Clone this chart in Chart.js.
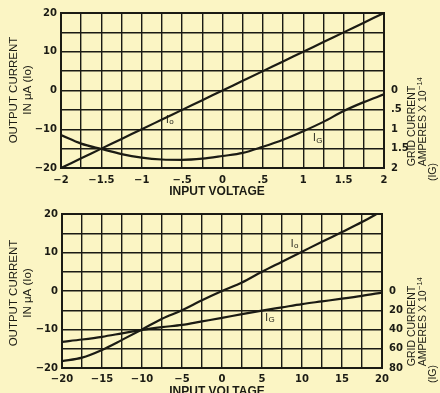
<!DOCTYPE html>
<html>
<head>
<meta charset="utf-8">
<script src="https://cdn.jsdelivr.net/npm/chart.js@4/dist/chart.umd.min.js"></script>
<style>
  html, body { margin: 0; padding: 0; background: #fbf5c4; }
  #wrap { position: relative; width: 440px; height: 393px; overflow: hidden; background: #fbf5c4; }
  canvas { position: absolute; left: 0; }
  #upper { top: 0; }
  #lower { top: 196px; }
</style>
</head>
<body>
<div id="wrap">
  <canvas id="upper" width="440" height="196"></canvas>
  <canvas id="lower" width="440" height="197"></canvas>
</div>
<script>
// ---- Upper panel: input voltage -2 … 2 ----
const upperVoltage = [-2, -1.75, -1.5, -1.25, -1, -0.75, -0.5, -0.25, 0, 0.25, 0.5, 0.75, 1, 1.25, 1.5, 1.75, 2];
const upperOutputCurrent = [-20, -17.5, -15, -12.5, -10, -7.5, -5, -2.5, 0, 2.5, 5, 7.5, 10, 12.5, 15, 17.5, 20];
const upperGridCurrent = [1.15, 1.37, 1.51, 1.64, 1.73, 1.78, 1.79, 1.76, 1.69, 1.61, 1.45, 1.27, 1.05, 0.81, 0.53, 0.30, 0.10];
const upperXTickValues = [-2, -1.5, -1, -0.5, 0, 0.5, 1, 1.5, 2];
const upperXTickLabels = ['−2', '−1.5', '−1', '−.5', '0', '.5', '1', '1.5', '2'];
const upperYTickValues = [-20, -10, 0, 10, 20];
const upperYTickLabels = ['−20', '−10', '0', '10', '20'];
const upperGridTickValues = [0, 0.5, 1, 1.5, 2];
const upperGridTickLabels = ['0', '.5', '1', '1.5', '2'];

// ---- Lower panel: input voltage -20 … 20 ----
const lowerVoltage = [-20, -17.5, -15, -12.5, -10, -7.5, -5, -2.5, 0, 2.5, 5, 7.5, 10, 12.5, 15, 17.5, 20];
const lowerOutputCurrent = [-18.2, -17.3, -15.3, -12.7, -10, -7.2, -5, -2.4, 0, 2.2, 5, 7.6, 10.2, 12.8, 15.3, 17.9, 20.8];
const lowerGridCurrent = [52.8, 50.4, 47.6, 44, 40.4, 37.6, 35.2, 31.6, 28, 24, 20.4, 17, 13.6, 10.8, 8, 5, 1.6];
const lowerXTickValues = [-20, -15, -10, -5, 0, 5, 10, 15, 20];
const lowerXTickLabels = ['−20', '−15', '−10', '−5', '0', '5', '10', '15', '20'];
const lowerYTickValues = [-20, -10, 0, 10, 20];
const lowerYTickLabels = ['−20', '−10', '0', '10', '20'];
const lowerGridTickValues = [0, 20, 40, 60, 80];
const lowerGridTickLabels = ['0', '20', '40', '60', '80'];

const INK = '#1b1b14';
const TITLE_FONT = '10.5px "Liberation Sans", Arial, sans-serif';
Chart.defaults.font.family = '"DejaVu Sans", sans-serif';
Chart.defaults.color = INK;

function labeler(values, labels) {
  return function (v) {
    const i = values.findIndex(t => Math.abs(t - v) < 1e-6);
    return i >= 0 ? labels[i] : '';
  };
}

function pairs(xs, ys) {
  return xs.map((x, i) => ({ x: x, y: ys[i] }));
}

function rotatedText(ctx, text, x, y) {
  ctx.save();
  ctx.translate(x, y);
  ctx.rotate(-Math.PI / 2);
  ctx.fillText(text, 0, 0);
  ctx.restore();
}

// Text for axis titles and curve names, placed on the canvas
const annotate = {
  id: 'annotate',
  afterDraw(chart, args, o) {
    const ctx = chart.ctx;
    ctx.save();
    ctx.fillStyle = INK;
    ctx.textAlign = 'center';
    ctx.textBaseline = 'middle';

    // x title
    ctx.font = 'bold 12px "Liberation Sans", Arial, sans-serif';
    ctx.fillText('INPUT VOLTAGE', o.xTitle[0], o.xTitle[1]);

    // left title, two rotated lines
    ctx.font = '11.5px "Liberation Sans", Arial, sans-serif';
    rotatedText(ctx, 'OUTPUT CURRENT', 14, o.leftCenter);
    rotatedText(ctx, 'IN μA (Io)', 28, o.leftCenter);

    // right title, rotated lines reading upwards
    ctx.font = TITLE_FONT;
    rotatedText(ctx, 'GRID CURRENT', 412, o.rightCenter);

    ctx.save();
    ctx.translate(423, o.rightCenter - 4);
    ctx.rotate(-Math.PI / 2);
    const main = 'AMPERES X 10';
    const wMain = ctx.measureText(main).width;
    ctx.font = '7.5px "Liberation Sans", Arial, sans-serif';
    const sup = '−14';
    const wSup = ctx.measureText(sup).width;
    const x0 = -(wMain + wSup) / 2;
    ctx.textAlign = 'left';
    ctx.fillText(sup, x0 + wMain + 0.5, -3.5);
    ctx.font = TITLE_FONT;
    ctx.fillText(main, x0, 0);
    ctx.restore();

    ctx.textAlign = 'center';
    rotatedText(ctx, '(IG)', 433, o.rightLast);

    // curve names at data positions
    const xs = chart.scales.x, ys = chart.scales.y;
    o.names.forEach(n => {
      const px = xs.getPixelForValue(n.at[0]);
      const py = ys.getPixelForValue(n.at[1]);
      ctx.textAlign = 'left';
      ctx.font = '10px "Liberation Sans", Arial, sans-serif';
      ctx.fillText('I', px, py);
      const w = ctx.measureText('I').width;
      ctx.font = '8px "Liberation Sans", Arial, sans-serif';
      ctx.fillText(n.sub, px + w + 0.5, py + 2);
    });
    ctx.restore();
  }
};

function gridWidth(ctx) {
  const s = ctx.scale;
  const v = ctx.tick && ctx.tick.value;
  return (Math.abs(v - s.min) < 1e-6 || Math.abs(v - s.max) < 1e-6) ? 2 : 1.4;
}

function buildChart(id, cfg) {
  return new Chart(document.getElementById(id), {
    type: 'line',
    data: {
      datasets: [
        {
          label: 'Io',
          data: pairs(cfg.voltage, cfg.io),
          yAxisID: 'y',
          borderColor: INK,
          borderWidth: 2.2,
          pointRadius: 0,
          cubicInterpolationMode: 'monotone',
          fill: false
        },
        {
          label: 'IG',
          data: pairs(cfg.voltage, cfg.ig),
          yAxisID: 'y2',
          borderColor: INK,
          borderWidth: 2.2,
          pointRadius: 0,
          cubicInterpolationMode: 'monotone',
          fill: false
        }
      ]
    },
    options: {
      responsive: false,
      animation: false,
      devicePixelRatio: 1,
      layout: { padding: { top: cfg.padTop, left: 0, right: 0, bottom: 0 } },
      plugins: {
        legend: { display: false },
        tooltip: { enabled: false },
        annotate: cfg.annotate
      },
      scales: {
        x: {
          type: 'linear',
          min: cfg.xMin, max: cfg.xMax,
          afterFit: s => { s.height = cfg.xHeight; },
          grid: { color: INK, lineWidth: gridWidth, drawTicks: false },
          border: { color: INK, width: 2 },
          ticks: {
            stepSize: cfg.xStep, autoSkip: false, maxRotation: 0, padding: cfg.xPad,
            font: { size: 10, weight: 'bold' },
            callback: labeler(cfg.xTickValues, cfg.xTickLabels)
          }
        },
        y: {
          type: 'linear', position: 'left',
          min: -20, max: 20,
          afterFit: s => { s.width = cfg.leftWidth; },
          grid: { color: INK, lineWidth: gridWidth, drawTicks: false },
          border: { color: INK, width: 2 },
          ticks: {
            stepSize: 5, autoSkip: false, padding: 4,
            font: { size: 10, weight: 'bold' },
            callback: labeler(cfg.yTickValues, cfg.yTickLabels)
          }
        },
        y2: {
          type: 'linear', position: 'right',
          min: -cfg.gMax, max: cfg.gMax, reverse: true,
          afterFit: s => { s.width = cfg.rightWidth; },
          grid: { display: false, drawTicks: false },
          border: { color: INK, width: 2 },
          ticks: {
            stepSize: cfg.gStep, autoSkip: false, padding: 7,
            font: { size: 10, weight: 'bold' },
            callback: labeler(cfg.gTickValues, cfg.gTickLabels)
          }
        }
      }
    },
    plugins: [annotate]
  });
}

buildChart('upper', {
  voltage: upperVoltage, io: upperOutputCurrent, ig: upperGridCurrent,
  xMin: -2, xMax: 2, xStep: 0.25,
  xTickValues: upperXTickValues, xTickLabels: upperXTickLabels,
  yTickValues: upperYTickValues, yTickLabels: upperYTickLabels,
  gMax: 2, gStep: 0.5, gTickValues: upperGridTickValues, gTickLabels: upperGridTickLabels,
  padTop: 11, xHeight: 28, leftWidth: 61, rightWidth: 56, xPad: 6,
  annotate: {
    xTitle: [217, 192], leftCenter: 90, rightCenter: 126, rightLast: 172,
    names: [{ at: [-0.7, -7.6], sub: 'o' }, { at: [1.12, -12.4], sub: 'G' }]
  }
});

buildChart('lower', {
  voltage: lowerVoltage, io: lowerOutputCurrent, ig: lowerGridCurrent,
  xMin: -20, xMax: 20, xStep: 2.5,
  xTickValues: lowerXTickValues, xTickLabels: lowerXTickLabels,
  yTickValues: lowerYTickValues, yTickLabels: lowerYTickLabels,
  gMax: 80, gStep: 20, gTickValues: lowerGridTickValues, gTickLabels: lowerGridTickLabels,
  padTop: 18, xHeight: 25, leftWidth: 62, rightWidth: 58, xPad: 5,
  annotate: {
    xTitle: [217, 196], leftCenter: 97, rightCenter: 130, rightLast: 178,
    names: [{ at: [8.6, 12.2], sub: 'o' }, { at: [5.4, -7.0], sub: 'G' }]
  }
});
</script>
</body>
</html>
